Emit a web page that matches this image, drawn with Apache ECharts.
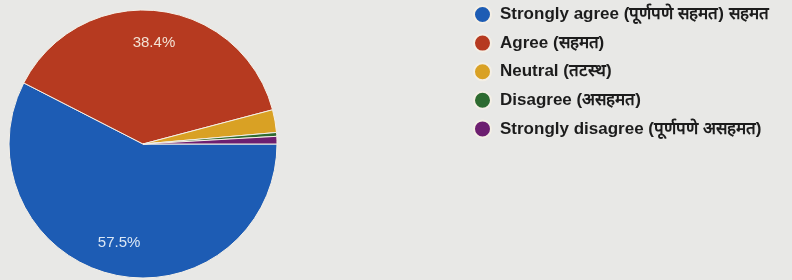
<!DOCTYPE html>
<html>
<head>
<meta charset="utf-8">
<script src="https://cdn.jsdelivr.net/npm/echarts@6/dist/echarts.min.js"></script>
<style>
  html, body { margin: 0; padding: 0; background: #e8e8e6; }
  #chart { width: 792px; height: 280px; }
</style>
</head>
<body>
<div id="chart"></div>
<script>
// response categories and counts (57.5% / 38.4% / small rest)
const categories = [
  "Strongly agree (पूर्णपणे सहमत) सहमत",
  "Agree (सहमत)",
  "Neutral (तटस्थ)",
  "Disagree (असहमत)",
  "Strongly disagree (पूर्णपणे असहमत)"
];
const counts = [126, 84, 6, 1, 2];
const colors = ["#1d5cb4", "#b63a20", "#d9a124", "#2e6b30", "#6d1f70"];

const data = categories.map((name, i) => ({ name: name, value: counts[i] }));

const chart = echarts.init(document.getElementById("chart"));
chart.setOption({
  animation: false,
  color: colors,
  legend: {
    orient: "vertical",
    left: 468,
    top: 0,
    icon: "circle",
    itemWidth: 17,
    itemHeight: 17,
    itemGap: 9.6,
    textStyle: {
      color: "#1c1c1c",
      fontSize: 17,
      lineHeight: 18,
      fontWeight: "bold",
      padding: [0, 0, 0, 4],
      fontFamily: "Liberation Sans, Arial, sans-serif"
    },
    data: categories
  },
  series: [
    {
      // the pie itself
      type: "pie",
      center: [143, 144],
      radius: [0, 134],
      startAngle: 0,
      clockwise: true,
      label: { show: false },
      labelLine: { show: false },
      itemStyle: { borderColor: "#f4efe6", borderWidth: 1 },
      emphasis: { disabled: true },
      data: data
    },
    {
      // transparent ring only used to place the % labels further out
      type: "pie",
      silent: true,
      center: [143, 144],
      radius: [64, 134],
      startAngle: 0,
      clockwise: true,
      itemStyle: { color: "transparent" },
      labelLine: { show: false },
      label: {
        show: true,
        position: "inside",
        fontSize: 15,
        fontFamily: "Liberation Sans, Arial, sans-serif",
        color: "#f3e2d4",
        formatter: p => p.percent >= 5 ? p.percent.toFixed(1) + "%" : ""
      },
      emphasis: { disabled: true },
      data: [
        { name: data[0].name, value: data[0].value, label: { color: "#dbe7f5" } },
        ...data.slice(1)
      ]
    }
  ]
});
</script>
</body>
</html>
